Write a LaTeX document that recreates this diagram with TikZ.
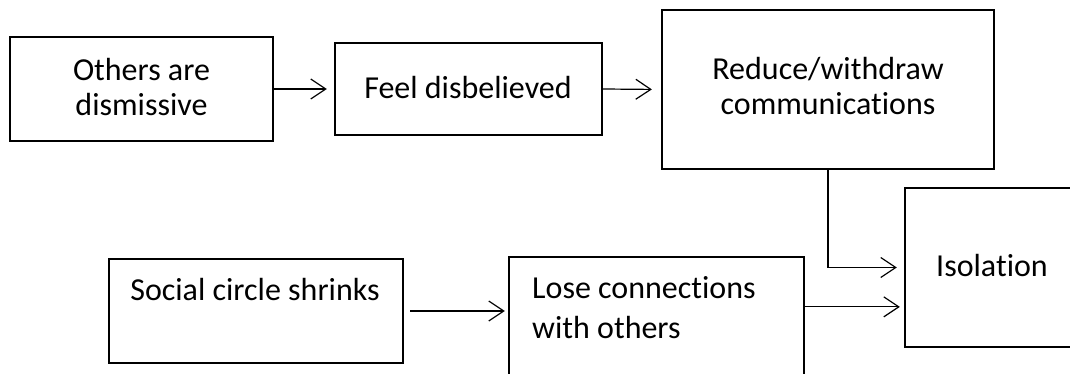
\documentclass[tikz,border=0pt]{standalone}
\usepackage{fontspec}
\setmainfont{Carlito}[Ligatures=NoCommon]
\usetikzlibrary{arrows.meta,calc}
\tikzset{
  boxnode/.style={draw=black, line width=2.3pt, rectangle, inner sep=0pt},
  txt/.style={inner sep=0pt, font=\fontsize{32}{35}\selectfont, align=center},
  txtl/.style={inner sep=0pt, font=\fontsize{32}{40}\selectfont, align=left},
  conn/.style={draw=black, line width=1.2pt, -{Straight Barb[length=15pt,width=20pt,line width=1.2pt]}}
}
\begin{document}
\begin{tikzpicture}[x=1pt,y=-1pt]
\useasboundingbox (0,0) rectangle (1070,374);
\clip (0,0) rectangle (1070,374);
\fill[white] (0,0) rectangle (1070,374);
% boxes
\node[boxnode, minimum width=263pt, minimum height=104pt] (b1) at (141.5,89) {};
\node[boxnode, minimum width=267pt, minimum height=92pt] (b2) at (468.5,89) {};
\node[boxnode, minimum width=332pt, minimum height=159pt] (b3) at (828,89.5) {};
\node[boxnode, minimum width=175pt, minimum height=159pt] (iso) at (992.5,267.5) {};
\node[boxnode, minimum width=294pt, minimum height=104pt] (b5) at (256,311) {};
\node[boxnode, minimum width=295pt, minimum height=140pt] (b6) at (656.5,327) {};
% texts (base anchor = baseline of the last line)
\node[txt, anchor=base] (t1) at (141.5,116) {Others are\\dismissive};
\node[txt, anchor=base] (t2) at (468,99) {Feel disbelieved};
\node[txt, anchor=base] (t3) at (828,115) {Reduce/withdraw\\communications};
\node[txt, anchor=base] (t4) at (992,276) {Isolation};
\node[txt, anchor=base] (t5) at (255,300) {Social circle shrinks};
\node[txtl, anchor=base west] (t6) at (532,338) {Lose connections\\with others};
% connectors
\coordinate (c6) at ($(b6.north east)+(0,51)$);
\draw[conn, shorten >=7pt] (b1.east) -- (b2.west);
\draw[conn, shorten >=9pt] (b2.east) -- (b3.west);
\draw[conn, shorten >=7pt] (b3.south) |- (iso.west);
\draw[conn, shorten <=6pt, shorten >=3pt] (b5.east) -- (b5.east -| b6.west);
\draw[conn, shorten >=4pt] (c6) -- (c6 -| iso.west);
\end{tikzpicture}
\end{document}
